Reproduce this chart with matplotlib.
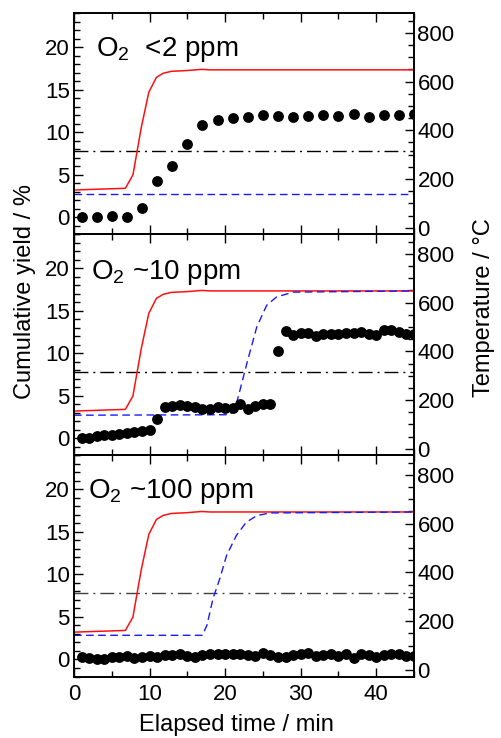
import matplotlib
matplotlib.use('Agg')
import matplotlib.pyplot as plt
from matplotlib.ticker import MultipleLocator

plt.rcParams['font.family'] = ['Liberation Sans', 'DejaVu Sans']
plt.rcParams['mathtext.fontset'] = 'custom'
plt.rcParams['mathtext.rm'] = 'Liberation Sans'
plt.rcParams['mathtext.default'] = 'regular'

# ---------------- data ----------------
panel_labels = ["O$_2$  <2 ppm", "O$_2$ ~10 ppm", "O$_2$ ~100 ppm"]

# furnace temperature (red, solid) - same in all panels
red_time = [0, 6.8, 7.8, 8.9, 9.9, 10.9, 11.8, 12.9, 14.9, 16.9, 18.0, 45]
red_temp = [155, 162, 217, 411, 556, 617, 634, 642, 645, 650, 648, 648]

# second temperature (blue, dashed)
blue_time_top = [0, 45]
blue_temp_top = [140, 140]
blue_time_mid = [0, 20.6, 21.3, 22.2, 23.0, 24.2, 25.5, 26.8, 29.0, 45]
blue_temp_mid = [138, 140, 161, 269, 365, 501, 589, 623, 643, 648]
blue_time_bot = [0, 17.0, 17.6, 18.4, 19.3, 20.2, 21.5, 22.8, 24.2, 25.9, 45]
blue_temp_bot = [142, 142, 184, 293, 375, 470, 552, 606, 633, 644, 648]

# reference temperature (dash-dot)
ref_temp = [315, 315, 315]

# cumulative yield (black dots)
yield_time_top = [1, 3, 5, 7, 9, 11, 13, 15, 17, 19, 21, 23, 25, 27, 29, 31,
                  33, 35, 37, 39, 41, 43, 45]
yield_top = [0.0, 0.08, 0.15, 0.08, 1.1, 4.25, 6.06, 8.65, 10.86, 11.45, 11.72,
             11.84, 12.0, 11.96, 11.77, 11.92, 12.04, 11.89, 12.16, 11.84,
             12.08, 12.04, 12.2]

yield_time_1min = [1, 2, 3, 4, 5, 6, 7, 8, 9, 10, 11, 12, 13, 14, 15, 16, 17,
                   18, 19, 20, 21, 22, 23, 24, 25, 26, 27, 28, 29, 30, 31, 32,
                   33, 34, 35, 36, 37, 38, 39, 40, 41, 42, 43, 44, 45]
yield_mid = [0.0, 0.1, 0.3, 0.35, 0.4, 0.5, 0.6, 0.8, 0.9, 0.95,
             2.3,
             3.65, 3.8, 3.9, 3.8, 3.7, 3.45, 3.5, 3.65, 3.6, 3.6, 4.1, 3.5,
             3.8, 4.05, 4.0,
             10.27,
             12.65, 12.15, 12.4, 12.4, 12.05, 12.3, 12.25, 12.3, 12.4, 12.4,
             12.5, 12.25, 12.15, 12.7, 12.75, 12.5, 12.3, 12.25]
yield_bot = [0.3, 0.2, 0.1, 0.05, 0.25, 0.35, 0.45, 0.2, 0.35, 0.45, 0.35, 0.5,
             0.5, 0.6, 0.45, 0.35, 0.5, 0.6, 0.6, 0.65, 0.6, 0.65, 0.5, 0.45,
             0.75, 0.5, 0.35, 0.25, 0.5, 0.6, 0.75, 0.45, 0.5, 0.65, 0.45, 0.6,
             0.2, 0.65, 0.5, 0.35, 0.5, 0.6, 0.6, 0.45, 0.45]

x_ticks = [0, 10, 20, 30, 40]

panels = [
    (yield_time_top, yield_top, blue_time_top, blue_temp_top),
    (yield_time_1min, yield_mid, blue_time_mid, blue_temp_mid),
    (yield_time_1min, yield_bot, blue_time_bot, blue_temp_bot),
]
label_pos = [(2.9, 19.0), (2.3, 18.8), (1.9, 19.0)]
ref_colors = ['black', 'black', '#404040']

# ---------------- figure ----------------
W, H = 501, 738
fig = plt.figure(figsize=(W / 100, H / 100), dpi=100)
gs = fig.add_gridspec(3, 1, left=74 / W, right=414 / W,
                      top=1 - 13.3 / H, bottom=1 - 676.5 / H, hspace=0)

for i, (yt, yv, bt, bT) in enumerate(panels):
    ax = fig.add_subplot(gs[i])
    ax2 = ax.twinx()
    ax.set_zorder(ax2.get_zorder() + 1)
    ax.patch.set_visible(False)

    ax2.axhline(ref_temp[i], color=ref_colors[i], lw=1.0,
                ls=(0, (10, 3.6, 1.4, 3.6)))
    ax2.plot(red_time, red_temp, color='#ff1010', lw=1.1)
    ax2.plot(bt, bT, color='#1a1aff', lw=1.0, ls=(0, (5.5, 3.2)))
    ax.plot(yt, yv, 'o', color='black', ms=7.8, mew=0)

    ax.set_xlim(0, 45)
    ax.set_ylim(-2, 24)
    ax2.set_ylim(-27, 880)

    ax.set_xticks(x_ticks)
    ax.xaxis.set_minor_locator(MultipleLocator(5))
    ax.yaxis.set_major_locator(MultipleLocator(5))
    ax.yaxis.set_minor_locator(MultipleLocator(1))
    ax2.yaxis.set_major_locator(MultipleLocator(200))
    ax2.yaxis.set_minor_locator(MultipleLocator(50))

    ax.tick_params(which='both', direction='in', top=True, bottom=True,
                   left=True, right=False, labelsize=16, width=1.0)
    ax.tick_params(which='major', length=6.5)
    ax.tick_params(which='minor', length=4)
    ax.tick_params(axis='y', pad=3)
    ax.tick_params(axis='x', pad=5.5)
    ax2.tick_params(which='both', direction='in', right=True, left=False,
                    labelsize=16, width=1.0, pad=2.5)
    ax2.tick_params(which='major', length=6.5)
    ax2.tick_params(which='minor', length=4)
    if i < 2:
        ax.tick_params(labelbottom=False)

    for a in (ax, ax2):
        for s in a.spines.values():
            s.set_linewidth(1.2)

    ax.text(label_pos[i][0], label_pos[i][1], panel_labels[i], fontsize=20,
            va='baseline', ha='left')

fig.text(25 / W, 1 - 292 / H, "Cumulative yield / %", rotation=90,
         ha='center', va='center', fontsize=17)
fig.text(484 / W, 1 - 308 / H, "Temperature / °C", rotation=90,
         ha='center', va='center', fontsize=17)
fig.text(236 / W, 7 / H, "Elapsed time / min", ha='center', va='baseline',
         fontsize=17)

fig.savefig('out.png', dpi=100)
